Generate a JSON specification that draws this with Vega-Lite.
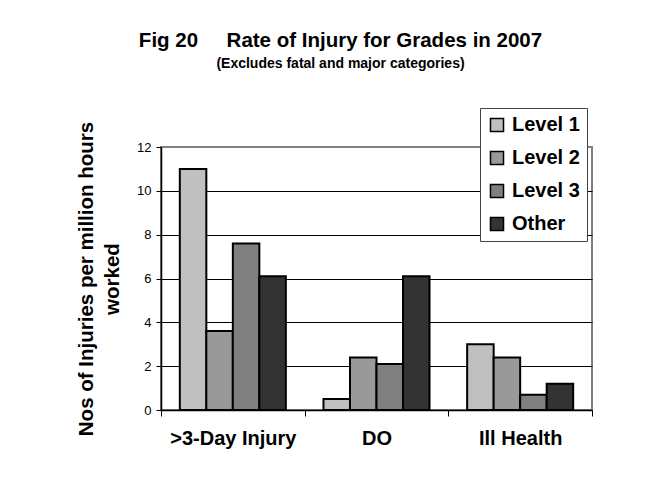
{
  "$schema": "https://vega.github.io/schema/vega-lite/v6.json",
  "width": 431,
  "height": 263,
  "autosize": {"type": "none"},
  "padding": {"left": 161, "top": 147, "right": 70, "bottom": 67},
  "background": "white",
  "title": {
    "text": "Fig 20\u00a0\u00a0\u00a0\u00a0\u00a0Rate of Injury for Grades in 2007",
    "subtitle": "(Excludes fatal and major categories)",
    "anchor": "middle",
    "frame": "group",
    "dx": -36,
    "offset": 37,
    "font": "Liberation Sans",
    "fontSize": 20.5,
    "fontWeight": "bold",
    "color": "black",
    "subtitleFont": "Liberation Sans",
    "subtitleFontSize": 14,
    "subtitleFontWeight": "bold",
    "subtitleColor": "black",
    "subtitlePadding": 5
  },
  "data": {
    "values": [
      {"category": ">3-Day Injury", "level": "Level 1", "value": 11},
      {"category": ">3-Day Injury", "level": "Level 2", "value": 3.6},
      {"category": ">3-Day Injury", "level": "Level 3", "value": 7.6},
      {"category": ">3-Day Injury", "level": "Other", "value": 6.1},
      {"category": "DO", "level": "Level 1", "value": 0.5},
      {"category": "DO", "level": "Level 2", "value": 2.4},
      {"category": "DO", "level": "Level 3", "value": 2.1},
      {"category": "DO", "level": "Other", "value": 6.1},
      {"category": "Ill Health", "level": "Level 1", "value": 3},
      {"category": "Ill Health", "level": "Level 2", "value": 2.4},
      {"category": "Ill Health", "level": "Level 3", "value": 0.7},
      {"category": "Ill Health", "level": "Other", "value": 1.2}
    ]
  },
  "mark": {"type": "bar", "stroke": "black", "strokeWidth": 2},
  "encoding": {
    "x": {
      "field": "category",
      "type": "nominal",
      "sort": [">3-Day Injury", "DO", "Ill Health"],
      "scale": {"paddingInner": 0, "paddingOuter": 0},
      "axis": {
        "title": null,
        "labelAngle": 0,
        "labelFont": "Liberation Sans",
        "labelFontSize": 20,
        "labelFontWeight": "bold",
        "labelColor": "black",
        "labelPadding": 12,
        "tickBand": "extent",
        "tickSize": 6,
        "tickColor": "black",
        "domainColor": "black",
        "domainWidth": 1.5,
        "grid": false
      }
    },
    "xOffset": {
      "field": "level",
      "type": "nominal",
      "sort": ["Level 1", "Level 2", "Level 3", "Other"],
      "scale": {"paddingInner": 0, "paddingOuter": 0.71}
    },
    "y": {
      "field": "value",
      "type": "quantitative",
      "scale": {"domain": [0, 12], "nice": false},
      "axis": {
        "values": [0, 2, 4, 6, 8, 10, 12],
        "title": ["Nos of Injuries per million hours", "worked"],
        "titleFont": "Liberation Sans",
        "titleFontSize": 20.5,
        "titleFontWeight": "bold",
        "titleColor": "black",
        "titleLineHeight": 26,
        "titlePadding": 14,
        "labelFont": "Liberation Sans",
        "labelFontSize": 13,
        "labelColor": "black",
        "labelPadding": 5,
        "tickSize": 5,
        "tickColor": "black",
        "domainColor": "black",
        "domainWidth": 1.5,
        "grid": true,
        "gridColor": {"condition": {"test": "datum.value == 12", "value": "#808080"}, "value": "black"},
        "gridWidth": 1
      }
    },
    "color": {
      "field": "level",
      "type": "nominal",
      "scale": {
        "domain": ["Level 1", "Level 2", "Level 3", "Other"],
        "range": ["#C0C0C0", "#999999", "#808080", "#333333"]
      },
      "legend": {
        "title": null,
        "orient": "none",
        "legendX": 319,
        "legendY": -39,
        "padding": 7,
        "strokeColor": "#444444",
        "fillColor": "white",
        "symbolType": "square",
        "symbolSize": 170,
        "symbolStrokeColor": "black",
        "symbolStrokeWidth": 1.5,
        "symbolOpacity": 1,
        "labelFont": "Liberation Sans",
        "labelFontSize": 20,
        "labelFontWeight": "bold",
        "labelColor": "black",
        "labelOffset": 5,
        "rowPadding": 13
      }
    }
  },
  "config": {
    "view": {"stroke": "#808080", "strokeWidth": 2}
  }
}
